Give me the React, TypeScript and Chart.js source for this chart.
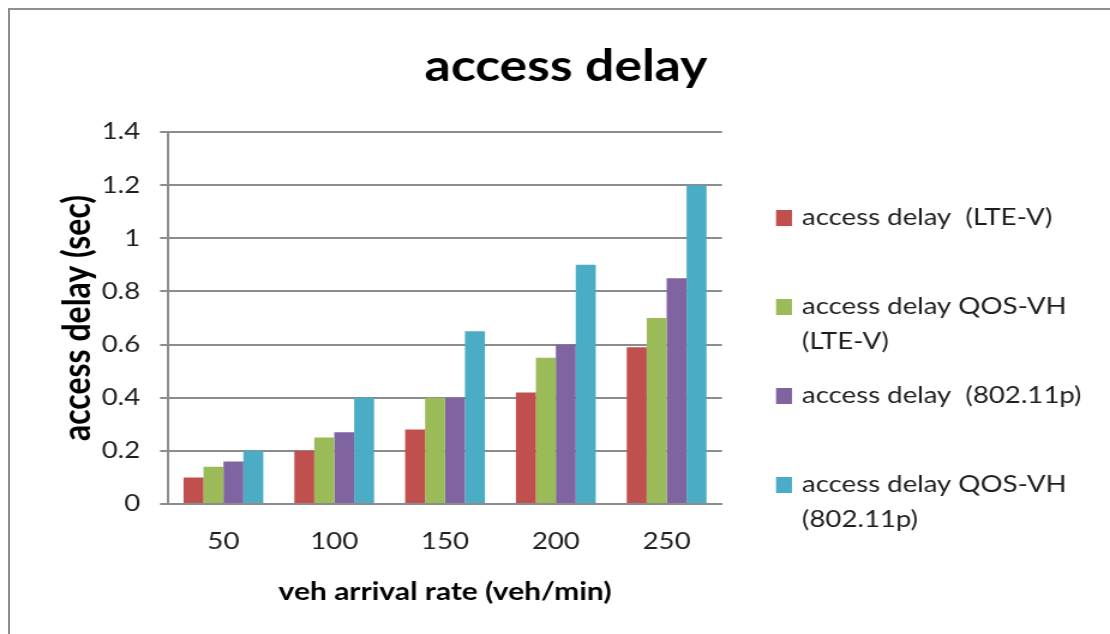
import React, { useEffect, useRef } from "react";
import { Chart, registerables } from "chart.js";

Chart.register(...registerables);

const categories = ["50", "100", "150", "200", "250"];
const lteV = [0.1, 0.2, 0.28, 0.42, 0.59];
const qosLteV = [0.14, 0.25, 0.4, 0.55, 0.7];
const p80211 = [0.16, 0.27, 0.4, 0.6, 0.85];
const qos80211 = [0.2, 0.4, 0.65, 0.9, 1.2];
const seriesNames = [
  "access delay  (LTE-V)",
  "access delay QOS-VH (LTE-V)",
  "access delay  (802.11p)",
  "access delay QOS-VH (802.11p)",
];
const legendLines = [
  ["access delay  (LTE-V)"],
  ["access delay QOS-VH", "(LTE-V)"],
  ["access delay  (802.11p)"],
  ["access delay QOS-VH", "(802.11p)"],
];
const colors = ["#C0504D", "#9BBB59", "#8064A2", "#4BACC6"];
const chartTitle = "access delay";
const xTitle = "veh arrival rate (veh/min)";
const yTitle = "access delay (sec)";

const FONT = "Lato, 'Open Sans', sans-serif";
// the reference picture is horizontally stretched; draw narrower and stretch with CSS
const K = 1.2;
const W = 1110 / K;
const H = 634;
const Y_TITLE_SIZE = 32;

const legendPlugin = {
  id: "sideLegend",
  afterDraw(chart: any) {
    const ctx = chart.ctx;
    ctx.save();
    ctx.font = `23px ${FONT}`;
    ctx.textBaseline = "middle";
    ctx.textAlign = "left";
    const startY = 218;
    const step = 89;
    const lineH = 35;
    chart.data.datasets.forEach((ds: any, i: number) => {
      const y = startY + i * step;
      ctx.fillStyle = ds.backgroundColor;
      ctx.fillRect(776 / K, y - 8, 16 / K, 16);
      ctx.fillStyle = "#1e1e1e";
      legendLines[i].forEach((t, j) => {
        ctx.fillText(t, 802 / K, y + j * lineH);
      });
    });
    ctx.restore();
  },
};

export default function App() {
  const ref = useRef<HTMLCanvasElement>(null);
  useEffect(() => {
    const series = [lteV, qosLteV, p80211, qos80211];
    const padL = (566 / K) * 2 - W;
    const chart = new Chart(ref.current!, {
      type: "bar",
      data: {
        labels: categories,
        datasets: series.map((d, i) => ({
          label: seriesNames[i],
          data: d,
          backgroundColor: colors[i],
          borderWidth: 0,
          categoryPercentage: 0.72,
          barPercentage: 1,
          yAxisID: "y",
        })),
      },
      options: {
        animation: false,
        responsive: false,
        maintainAspectRatio: false,
        layout: { padding: { left: padL, right: 0, top: 0, bottom: 0 } },
        plugins: {
          legend: { display: false },
          tooltip: { enabled: false },
          title: {
            display: true,
            text: chartTitle,
            color: "#000",
            font: { family: FONT, size: 43, weight: "bold" },
            padding: { top: 41.2, bottom: 39.2 },
          },
        },
        scales: {
          x: {
            grid: { display: false, drawTicks: false },
            border: { display: true, color: "#8c8c8c", width: 2 },
            ticks: {
              color: "#1e1e1e",
              font: { family: FONT, size: 23 },
              padding: 24,
            },
            title: {
              display: true,
              text: xTitle,
              color: "#000",
              font: { family: FONT, size: 25, weight: "bold" },
              padding: { top: 0, bottom: 27 },
            },
            afterFit: (s: any) => {
              s.height = 130;
            },
          },
          y: {
            min: 0,
            max: 1.4,
            ticks: {
              stepSize: 0.2,
              color: "#1e1e1e",
              font: { family: FONT, size: 23 },
              padding: 16.6,
              callback: (v: any) => String(Math.round(Number(v) * 10) / 10),
            },
            grid: { color: "#8c8c8c", lineWidth: 2, tickLength: 8 / K, drawTicks: true },
            border: { display: true, color: "#8c8c8c", width: 2 },
            title: {
              display: true,
              text: yTitle,
              color: "#000",
              font: { family: FONT, size: Y_TITLE_SIZE, weight: "bold" },
              padding: { top: 78 / K - padL - (Y_TITLE_SIZE * 1.2) / 2, bottom: 0 },
            },
            afterFit: (s: any) => {
              s.width = 168 / K - padL;
            },
          },
          spacer: {
            position: "right",
            display: true,
            grid: { display: false, drawTicks: false },
            border: { display: false },
            ticks: { display: false },
            afterFit: (s: any) => {
              s.width = W - 722 / K;
            },
          },
        },
      },
      plugins: [legendPlugin],
    } as any);
    return () => chart.destroy();
  }, []);

  return (
    <div style={{ position: "absolute", left: 0, top: 0, width: 1110, height: 634, background: "#fff" }}>
      <canvas
        ref={ref}
        width={W}
        height={H}
        style={{ position: "absolute", left: 0, top: 0, width: "1110px", height: "634px" }}
      />
      <div
        style={{
          position: "absolute",
          left: 8,
          top: 8,
          right: 0,
          bottom: 0,
          borderTop: "2px solid #8f8f8f",
          borderLeft: "2px solid #8f8f8f",
          pointerEvents: "none",
        }}
      />
    </div>
  );
}
